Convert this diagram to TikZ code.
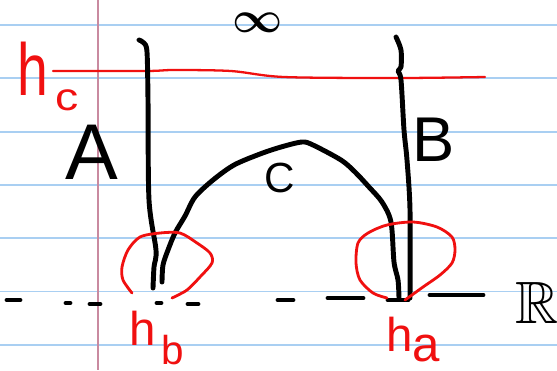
\documentclass[tikz,border=0pt]{standalone}
\usepackage{amssymb}
\usepackage{bm}
\usepackage{fontspec}
\setmainfont{Liberation Sans}
\usetikzlibrary{positioning}
\definecolor{ruleblue}{HTML}{A9CFF2}
\definecolor{marginpink}{HTML}{C98AA0}
\definecolor{redink}{HTML}{F01010}
% h with a dropped index: h size, index size, index, drop
\newcommand{\hlab}[4]{{\fontsize{#1}{#1}\selectfont h}\raisebox{-#4}{\fontsize{#2}{#2}\selectfont #3}}

\begin{document}
\begin{tikzpicture}[x=0.02cm,y=-0.02cm,
  rule/.style={draw=ruleblue,line width=1.1pt},
  pen/.style={draw=black,line width=2.8pt,line cap=round,line join=round},
  redpen/.style={draw=redink,line width=1.6pt,line cap=round,line join=round},
  lbl/.style={inner sep=0pt},
  redlbl/.style={inner sep=0pt,anchor=base west,text=redink}]

\useasboundingbox (0,0) rectangle (557,370);
\fill[white] (0,0) rectangle (557,370);

% lined paper
\foreach \k in {0,...,6} \draw[rule] (0,25+53.3*\k) -- (557,25+53.3*\k);
\draw[draw=marginpink,line width=1pt] (98,0) -- (98,370);

% the line R
\foreach \a/\b/\y in {7/20/300,66/70/303,90/100/304,157/161/303,188/198/304,
  278/293/300,328/363/298,388/408/300,430/483/295}
  \draw[pen] (\a,\y) -- (\b,\y);
\node[lbl,font=\fontsize{34}{34}\selectfont] (R) at (537,303) {$\bm{\mathbb{R}}$};

% level h_c
\draw[redpen,line width=1.3pt] plot[smooth] coordinates {(53,71) (146,71) (174,70)
  (231,71) (284,77) (398,78) (485,77)};
\node[redlbl] (hc) at (17,95) {\scalebox{0.75}[1]{\fontsize{42}{42}\selectfont h}%
  \hspace{4pt}\raisebox{-9pt}{\scalebox{1.2}[1]{\fontsize{22}{22}\selectfont c}}};

% curves A, B and C
\draw[pen] plot[smooth] coordinates {(139,40) (144,43) (147,52) (148,100)
  (149,200) (156,250) (154,267) (153,288)};
\draw[pen] plot[smooth] coordinates {(396,37) (401,50) (401,67) (398,71) (401,80)
  (404,130) (407,160) (410,210) (410,298)};
\draw[pen] plot[smooth] coordinates {(162,282) (163,265) (168,250) (175,233)
  (185,216) (195,197) (213,180) (234,165) (260,154) (281,147) (302,142) (313,145)
  (341,160) (355,172) (369,187) (382,202) (391,222) (394,262) (398,280) (399,298)};
\node[lbl,font=\fontsize{45}{45}\selectfont] (A) at (92,152) {A};
\node[lbl,font=\fontsize{36}{36}\selectfont] (B) at (434,140) {B};
\node[lbl,font=\fontsize{24}{24}\selectfont] (C) at (280,178) {C};
\node[lbl,font=\fontsize{44}{44}\selectfont] (inf) at (258,23) {$\bm{\infty}$};

% the two red loops
\draw[redpen] plot[smooth] coordinates {(132,293) (123,280) (122,267) (128,250)
  (140,237) (160,233) (180,233) (197,243) (210,253) (212,263) (200,277) (187,290)
  (172,298)};
\draw[redpen] plot[smooth] coordinates {(387,298) (373,293) (360,280) (356,263)
  (358,243) (368,233) (387,225) (413,222) (437,227) (452,237) (455,250) (452,263)
  (440,275) (423,287) (405,300)};
\node[redlbl] (hb) at (129,345) {\hlab{27pt}{23pt}{\hspace{3pt}b}{11pt}};
\node[redlbl] (ha) at (386,351) {\hlab{27pt}{28pt}{a}{6pt}};
\end{tikzpicture}
\end{document}
